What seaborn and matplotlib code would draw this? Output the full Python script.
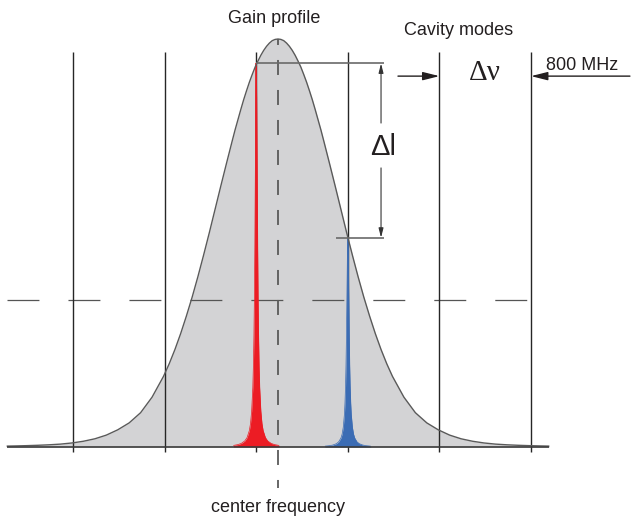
import numpy as np
import pandas as pd
import matplotlib
matplotlib.use("Agg")
import matplotlib.pyplot as plt
import seaborn as sns

# Gain profile: detuning from the line centre (MHz) and relative gain
gain_freq = [-2370, -2300, -2200, -2100, -2000, -1900, -1800, -1700, -1600, -1500,
             -1400, -1300, -1200, -1100, -1000, -950, -900, -850, -800, -750,
             -700, -650, -600, -550, -500, -450, -400, -375, -350, -325,
             -300, -275, -250, -225, -200, -175, -150, -125, -100, -75,
             -50, -25, 0, 25, 50, 75, 100, 125, 150, 175,
             200, 225, 250, 275, 300, 325, 350, 375, 400, 450,
             500, 550, 600, 650, 700, 750, 800, 850, 900, 950,
             1000, 1100, 1200, 1300, 1400, 1500, 1600, 1700, 1800, 1900,
             2000, 2100, 2200, 2300, 2370]
gain_value = [0.0021, 0.0025, 0.0032, 0.0041, 0.0053, 0.0070, 0.0098, 0.014, 0.020, 0.029,
              0.042, 0.059, 0.084, 0.122, 0.173, 0.204, 0.239, 0.278, 0.321, 0.367,
              0.417, 0.470, 0.525, 0.582, 0.639, 0.695, 0.750, 0.777, 0.802, 0.827,
              0.851, 0.873, 0.894, 0.913, 0.931, 0.946, 0.960, 0.972, 0.982, 0.990,
              0.996, 0.999, 1.000, 0.999, 0.996, 0.990, 0.982, 0.972, 0.960, 0.946,
              0.931, 0.913, 0.894, 0.873, 0.851, 0.827, 0.802, 0.777, 0.750, 0.695,
              0.639, 0.582, 0.525, 0.470, 0.417, 0.367, 0.321, 0.278, 0.239, 0.204,
              0.173, 0.122, 0.084, 0.059, 0.042, 0.029, 0.020, 0.014, 0.0098, 0.0070,
              0.0053, 0.0041, 0.0032, 0.0025, 0.0021]

# Longitudinal cavity modes, spaced by 800 MHz
mode_freq = [-1790, -990, -190, 610, 1410, 2210]

# Oscillating modes and the gain each one reaches
lasing_freq = [-190, 610]
lasing_gain = [0.940, 0.513]
lasing_color = ["#ec1c24", "#3b6cb4"]

# Narrow line shape of a single mode: offset (MHz) and relative height
line_offset = [-200, -160, -130, -100, -80, -60, -50, -40, -30, -25, -20, -16, -12, -8, -4,
               0, 4, 8, 12, 16, 20, 25, 30, 40, 50, 60, 80, 100, 130, 160, 200]
line_shape = [0.0040, 0.0062, 0.0094, 0.0158, 0.0246, 0.0431, 0.0613, 0.0940, 0.155, 0.209,
              0.292, 0.390, 0.530, 0.717, 0.910, 1.0, 0.910, 0.717, 0.530, 0.390, 0.292,
              0.209, 0.155, 0.0940, 0.0613, 0.0431, 0.0246, 0.0158, 0.0094, 0.0062, 0.0040]

threshold = 0.36
spacing_label = "800 MHz"

sns.set_theme(style="white")
plt.rcParams["font.family"] = ["Liberation Sans", "DejaVu Sans"]
plt.rcParams["lines.scale_dashes"] = False
plt.rcParams["lines.solid_capstyle"] = "butt"
plt.rcParams["lines.dash_capstyle"] = "butt"

fig = plt.figure(figsize=(6.32, 5.20), dpi=100)
ax = fig.add_axes([0, 0, 1, 1])
ax.set_xlim(-2428, 3092)
ax.set_ylim(-0.179, 1.0956)
ax.axis("off")

ink = "#231f20"

df = pd.DataFrame({"freq": gain_freq, "gain": gain_value})

# shaded gain curve
ax.fill_between(df["freq"], 0, df["gain"], color="#d3d3d5", lw=0, zorder=1)

# threshold level
ax.plot([-2367, 2183], [threshold, threshold], color="#555555", lw=0.9,
        linestyle=(0, (23.0, 20.9)), zorder=2)

# cavity mode lines
ax.vlines(mode_freq, -0.012, 0.968, color="#262626", lw=1.0, zorder=3)

# oscillating modes
offs = np.array(line_offset)
shape = np.array(line_shape)
for f, h, c in zip(lasing_freq, lasing_gain, lasing_color):
    x = f + offs
    y = h * shape
    ax.fill_between(x, 0, y, color=c, lw=0, zorder=4)
    ax.plot(x, y, color=c, lw=0.5, zorder=4)
    ax.vlines(f, 0, h, color=c, lw=1.1, zorder=4)

# gain profile outline
sns.lineplot(data=df, x="freq", y="gain", color="#5a5a5a", lw=1.0, ax=ax,
             sort=True, zorder=5)
ax.set_xlabel("")
ax.set_ylabel("")

# frequency axis
ax.plot([-2367, 2367], [0, 0], color="#3a3a3a", lw=1.2, zorder=6)

# centre frequency marker
ax.plot([0, 0], [1.0, -0.1005], color="#5a5a5a", lw=1.3,
        linestyle=(6.5, (10.8, 10.8)), zorder=6)

# intensity difference between the two modes
ax.plot([lasing_freq[0], 926], [lasing_gain[0], lasing_gain[0]], color="#6a6a6a", lw=1.2, zorder=6)
ax.plot([507, 926], [lasing_gain[1], lasing_gain[1]], color="#6a6a6a", lw=1.2, zorder=6)
small_head = "-|>,head_length=0.55,head_width=0.14"
ax.annotate("", xy=(900, lasing_gain[0]), xytext=(900, 0.794),
            arrowprops=dict(arrowstyle=small_head, color="#333333", lw=0.8,
                            shrinkA=0, shrinkB=0, mutation_scale=10), zorder=7)
ax.annotate("", xy=(900, lasing_gain[1]), xytext=(900, 0.684),
            arrowprops=dict(arrowstyle=small_head, color="#333333", lw=0.8,
                            shrinkA=0, shrinkB=0, mutation_scale=10), zorder=7)
ax.text(915, 0.735, "Δl", fontsize=21, color=ink, ha="center", va="center")

# mode spacing
big_head = "-|>,head_length=1.0,head_width=0.25"
ax.annotate("", xy=(mode_freq[4], 0.909), xytext=(1048, 0.909),
            arrowprops=dict(arrowstyle=big_head, color=ink, lw=1.0,
                            shrinkA=0, shrinkB=0, mutation_scale=10), zorder=7)
ax.annotate("", xy=(mode_freq[5], 0.909), xytext=(3074, 0.909),
            arrowprops=dict(arrowstyle=big_head, color=ink, lw=1.0,
                            shrinkA=0, shrinkB=0, mutation_scale=10), zorder=7)
ax.text(1808, 0.917, "Δν", fontsize=21, color=ink, ha="center", va="center",
        family=["Liberation Serif", "DejaVu Serif"])
ax.text(2341, 0.936, spacing_label, fontsize=13, color=ink, ha="left", va="center")

# labels
ax.text(-35, 1.051, "Gain profile", fontsize=13, color=ink, ha="center", va="center")
ax.text(1581, 1.022, "Cavity modes", fontsize=13, color=ink, ha="center", va="center")
ax.text(0, -0.1495, "center frequency", fontsize=13, color=ink, ha="center", va="center")

fig.savefig("out.png", dpi=100, facecolor="white")
